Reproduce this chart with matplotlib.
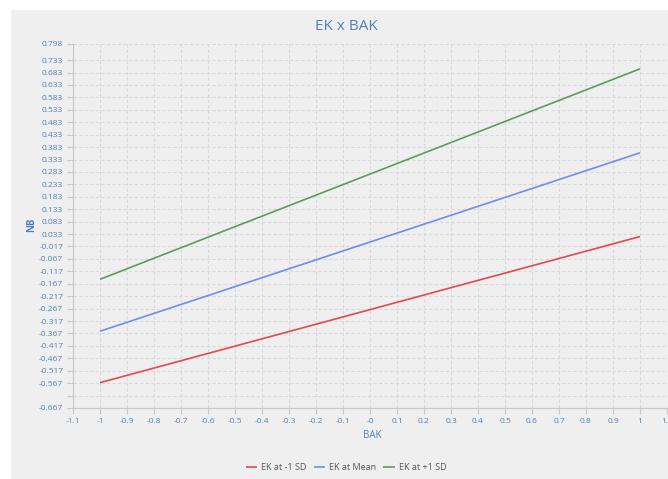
import matplotlib
matplotlib.use("Agg")
import matplotlib.pyplot as plt
from matplotlib.patches import Rectangle

# Simple-slopes data: NB predicted at the two ends of BAK for three EK levels
bak = [-1, 1]
ek_low = [-0.565, 0.023]
ek_mean = [-0.358, 0.360]
ek_high = [-0.149, 0.698]

series_names = ["EK at -1 SD", "EK at Mean", "EK at +1 SD"]
series_colors = ["#e5484c", "#6d8ef0", "#5e9b5e"]

x_ticks = [-1.1, -1.0, -0.9, -0.8, -0.7, -0.6, -0.5, -0.4, -0.3, -0.2, -0.1,
           0.0, 0.1, 0.2, 0.3, 0.4, 0.5, 0.6, 0.7, 0.8, 0.9, 1.0, 1.1]
x_labels = ["-1.1", "-1", "-0.9", "-0.8", "-0.7", "-0.6", "-0.5", "-0.4", "-0.3",
            "-0.2", "-0.1", "-0", "0.1", "0.2", "0.3", "0.4", "0.5", "0.6", "0.7",
            "0.8", "0.9", "1", "1.1"]
y_ticks = [-0.667, -0.617, -0.567, -0.517, -0.467, -0.417, -0.367, -0.317, -0.267,
           -0.217, -0.167, -0.117, -0.067, -0.017, 0.033, 0.083, 0.133, 0.183,
           0.233, 0.283, 0.333, 0.383, 0.433, 0.483, 0.533, 0.583, 0.633, 0.683,
           0.733, 0.798]
y_labels = ["-0.667", "", "-0.567", "-0.517", "-0.467", "-0.417", "-0.367", "-0.317",
            "-0.267", "-0.217", "-0.167", "-0.117", "-0.067", "-0.017", "0.033",
            "0.083", "0.133", "0.183", "0.233", "0.283", "0.333", "0.383", "0.433",
            "0.483", "0.533", "0.583", "0.633", "0.683", "0.733", "0.798"]

W, H = 668, 479
bg = "#efefef"
txt_blue = "#4f80bb"
font = ["Open Sans", "DejaVu Sans"]

fig = plt.figure(figsize=(W / 100, H / 100), dpi=100)
fig.patch.set_facecolor("white")
fig.patches.append(Rectangle((11 / W, 0), 1 - 11 / W, 1 - 10 / H,
                             transform=fig.transFigure, facecolor=bg,
                             edgecolor="none", zorder=-10))

ax = fig.add_axes([73 / W, 1 - 408 / H, (667 - 73) / W, (408 - 44) / H])
ax.set_facecolor(bg)

for ys, name, col in zip([ek_low, ek_mean, ek_high], series_names, series_colors):
    ax.plot(bak, ys, color=col, lw=1.2, label=name, solid_capstyle="butt")

ax.set_xlim(-1.1, 1.1)
ax.set_ylim(-0.667, 0.798)
ax.set_xticks(x_ticks)
ax.set_xticklabels(x_labels, fontsize=6, color=txt_blue, family=font)
ax.set_yticks(y_ticks)
ax.set_yticklabels(y_labels, fontsize=6, color=txt_blue, family=font)
ax.tick_params(axis="both", length=4, width=0.8, color="#c8c8c8", pad=3)

ax.grid(True, color="#d9d9d9", linestyle=(0, (3, 2)), linewidth=0.8)
ax.set_axisbelow(True)
for side in ["top", "right"]:
    ax.spines[side].set_visible(False)
for side in ["left", "bottom"]:
    ax.spines[side].set_color("#c8c8c8")
    ax.spines[side].set_linewidth(0.8)

fig.text(346 / W, 1 - 27 / H, "EK x BAK", ha="center", va="center",
         fontsize=11, color=txt_blue, family=font)
fig.text(372 / W, 1 - 435 / H, "BAK", ha="center", va="center",
         fontsize=7, color=txt_blue, family=font)
fig.text(32 / W, 1 - 225 / H, "NB", ha="center", va="center", rotation=90,
         fontsize=7, color=txt_blue, family=font, fontweight="bold")

leg = fig.legend(loc="center", bbox_to_anchor=(346 / W, 1 - 468 / H), ncol=3,
                 frameon=False, fontsize=6.5, handlelength=1.3, handletextpad=0.4,
                 columnspacing=0.8, prop={"family": font, "size": 6.5})
for t in leg.get_texts():
    t.set_color("#555555")

fig.savefig("out.png", dpi=100, facecolor=fig.get_facecolor())
